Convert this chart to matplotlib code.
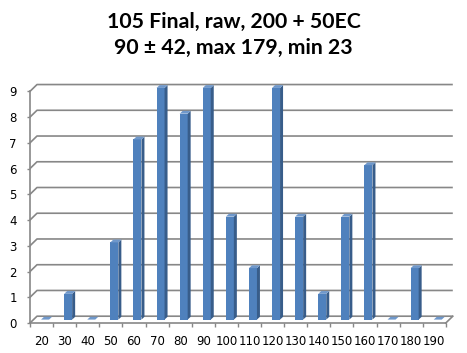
import numpy as np
import matplotlib.pyplot as plt
from matplotlib.patches import Polygon

# histogram bins and counts
bins = [20, 30, 40, 50, 60, 70, 80, 90, 100, 110, 120, 130, 140, 150, 160, 170, 180, 190]
counts = [0, 1, 0, 3, 7, 9, 8, 9, 4, 2, 9, 4, 1, 4, 6, 0, 2, 0]
yticks = list(range(0, 10))
title = "105 Final, raw, 200 + 50EC\n90 \u00b1 42, max 179, min 23"

W, H = 467, 353
px_x = 23.1   # pixels per category
px_y = 25.74  # pixels per unit

# depth of the fake 3d walls, in data units
dx = 7 / px_x
dy = 6.8 / px_y
# bar size
bw = 8 / px_x
sx = 3 / px_x
sy = 2.8 / px_y

fig = plt.figure(figsize=(W / 100, H / 100), dpi=100)
xlo, xhi = -0.5, 17.5 + dx
ylo, yhi = 0, 9.32
ax = fig.add_axes([30 / W, (H - 323) / H, (xhi - xlo) * px_x / W, (yhi - ylo) * px_y / H])
ax.set_xlim(xlo, xhi)
ax.set_ylim(ylo, yhi)

grid_c = '#878787'
for v in yticks:
    ax.plot([-0.5, -0.5 + dx, 17.5 + dx], [v, v + dy, v + dy], color=grid_c, lw=1.2,
            clip_on=False, zorder=1, solid_capstyle='butt')
# right edge of the floor
ax.plot([17.5, 17.5 + dx], [0, dy], color=grid_c, lw=1.2, clip_on=False, zorder=1)

# bars: front, side and top faces
x = np.arange(len(bins))
b = dy / 2
xl = x + dx / 2 - bw / 2
ax.bar(xl, counts, width=bw, bottom=b, align='edge', color='#4f81bd', zorder=3,
       edgecolor='none')
for x0, v in zip(xl, counts):
    x1 = x0 + bw
    side = [(x1, b), (x1 + sx, b + sy), (x1 + sx, b + v + sy), (x1, b + v)]
    top = [(x0, b + v), (x0 + sx, b + v + sy), (x1 + sx, b + v + sy), (x1, b + v)]
    ax.add_patch(Polygon(side, closed=True, fc='#385d8a', ec='none', zorder=3, clip_on=False))
    ax.add_patch(Polygon(top, closed=True, fc='#6f98cb', ec='none', zorder=4, clip_on=False))

# axes
for s in ['top', 'right']:
    ax.spines[s].set_visible(False)
ax.spines['left'].set_bounds(0, 9)
ax.spines['bottom'].set_bounds(-0.5, 17.5)
for s in ['left', 'bottom']:
    ax.spines[s].set_color(grid_c)
    ax.spines[s].set_linewidth(1.2)

ax.set_yticks(yticks)
ax.set_yticklabels([str(v) for v in yticks])
ax.tick_params(axis='y', length=2.5, width=1, color=grid_c, pad=7, labelsize=8.5)

ax.set_xticks(np.arange(-0.5, 18, 1))
ax.set_xticklabels([])
ax.tick_params(axis='x', which='major', length=3, width=1, color=grid_c)
ax.set_xticks(x, minor=True)
ax.set_xticklabels([str(v) for v in bins], minor=True)
ax.tick_params(axis='x', which='minor', length=0, pad=8.5, labelsize=8.5)

fig.text(0.5, 1 - 35 / H, title, ha='center', va='center', fontsize=15.3,
         fontweight='bold', family='Lato', linespacing=1.42)

fig.savefig('out.png', dpi=100)
